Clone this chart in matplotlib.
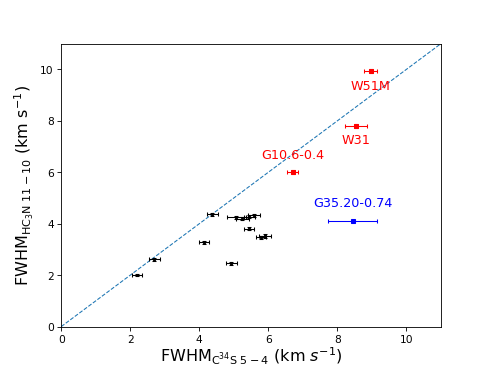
import numpy as np
import matplotlib.pyplot as plt

# black sources
x_blk = [2.20, 2.70, 4.13, 4.37, 4.93, 5.07, 5.25, 5.45, 5.58, 5.43, 5.78, 5.90]
y_blk = [2.00, 2.61, 3.28, 4.36, 2.46, 4.25, 4.20, 4.27, 4.33, 3.81, 3.47, 3.52]
xe_blk = [0.15, 0.15, 0.15, 0.16, 0.15, 0.28, 0.20, 0.15, 0.18, 0.14, 0.15, 0.17]
ye_blk = [0.05, 0.05, 0.06, 0.06, 0.05, 0.06, 0.06, 0.05, 0.06, 0.06, 0.06, 0.06]

# red sources
names_red = ['W51M', 'W31', 'G10.6-0.4']
x_red = [8.96, 8.55, 6.70]
y_red = [9.92, 7.81, 6.02]
xe_red = [0.19, 0.32, 0.15]
ye_red = [0.08, 0.08, 0.07]

# blue source
name_blue = 'G35.20-0.74'
x_blue = [8.44]
y_blue = [4.11]
xe_blue = [0.70]
ye_blue = [0.05]

fig = plt.figure(figsize=(6.4, 4.8), dpi=76.5625)
ax = fig.add_subplot(111)

ax.plot([0, 11], [0, 11], '--', color='C0', lw=1)
ax.errorbar(x_blk, y_blk, xerr=xe_blk, yerr=ye_blk, fmt='s', color='k', ms=2, capsize=2, elinewidth=1)
ax.errorbar(x_red, y_red, xerr=xe_red, yerr=ye_red, fmt='s', color='r', ms=3, capsize=2, elinewidth=1)
ax.errorbar(x_blue, y_blue, xerr=xe_blue, yerr=ye_blue, fmt='s', color='b', ms=3, capsize=2, elinewidth=1)

ax.text(x_red[0], y_red[0] - 0.55, names_red[0], color='r', fontsize=12, ha='center', va='center')
ax.text(x_red[1], y_red[1] - 0.55, names_red[1], color='r', fontsize=12, ha='center', va='center')
ax.text(x_red[2], y_red[2] + 0.65, names_red[2], color='r', fontsize=12, ha='center', va='center')
ax.text(x_blue[0], y_blue[0] + 0.7, name_blue, color='b', fontsize=12, ha='center', va='center')

ax.set_xlim(0, 11)
ax.set_ylim(0, 11)
ax.set_xlabel(r'FWHM$_{\rm C^{34}S\ 5-4}$ (km $s^{-1}$)', fontsize=15, labelpad=1.5)
ax.set_ylabel(r'FWHM$_{\rm HC_3N\ 11-10}$ (km s$^{-1}$)', fontsize=15)

fig.savefig('out.png')
